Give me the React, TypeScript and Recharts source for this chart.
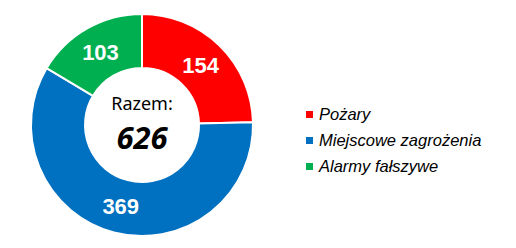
import { PieChart, Pie, Cell } from 'recharts'

const categories = ['Pożary', 'Miejscowe zagrożenia', 'Alarmy fałszywe']
const values = [154, 369, 103]
const colors = ['#FF0000', '#0070C0', '#00B050']

const data = categories.map((name, i) => ({ name, value: values[i] }))
const total = values.reduce((a, b) => a + b, 0)

const CX = 142
const CY = 125
const RADIAN = Math.PI / 180

// value labels sit halfway through the ring
function SliceLabel(props: any) {
  const { cx, cy, midAngle, innerRadius, outerRadius, value } = props
  const r = (innerRadius + outerRadius) / 2
  const x = cx + r * Math.cos(-midAngle * RADIAN)
  const y = cy + r * Math.sin(-midAngle * RADIAN)
  return (
    <text
      x={x}
      y={y}
      dy={8}
      textAnchor="middle"
      fill="#fff"
      fontSize={22}
      fontWeight={700}
      fontFamily="'Liberation Sans', Arial, sans-serif"
    >
      {value}
    </text>
  )
}

export default function App() {
  return (
    <div style={{ position: 'fixed', left: 0, top: 0, width: 516, height: 248, background: '#fff' }}>
      <PieChart width={516} height={248} margin={{ top: 0, right: 0, bottom: 0, left: 0 }}>
        <Pie
          data={data}
          dataKey="value"
          nameKey="name"
          cx={CX}
          cy={CY}
          innerRadius={57}
          outerRadius={111}
          startAngle={90}
          endAngle={-270}
          stroke="#fff"
          strokeWidth={2}
          label={SliceLabel}
          labelLine={false}
          isAnimationActive={false}
        >
          {data.map((d, i) => (
            <Cell key={d.name} fill={colors[i]} />
          ))}
        </Pie>
      </PieChart>
      {/* total in the hole */}
      <svg width={516} height={248} style={{ position: 'absolute', left: 0, top: 0, pointerEvents: 'none' }}>
        <text x={CX} y={CY - 15} textAnchor="middle" fill="#000" fontSize={18} fontFamily="'Noto Sans', sans-serif">
          Razem:
        </text>
        <text
          x={CX}
          y={CY + 24}
          textAnchor="middle"
          fill="#000"
          fontSize={31}
          fontWeight={700}
          fontStyle="italic"
          fontFamily="'Noto Sans', sans-serif"
        >
          {total}
        </text>
      </svg>
      <div style={{ position: 'absolute', left: 306, top: 101, fontFamily: "'Liberation Sans', Arial, sans-serif", fontStyle: 'italic', fontSize: 16.5, color: '#000' }}>
        {categories.map((c, i) => (
          <div key={c} style={{ display: 'flex', alignItems: 'center', height: 26 }}>
            <span style={{ display: 'inline-block', width: 7, height: 7, background: colors[i], marginRight: 6 }} />
            {c}
          </div>
        ))}
      </div>
    </div>
  )
}
